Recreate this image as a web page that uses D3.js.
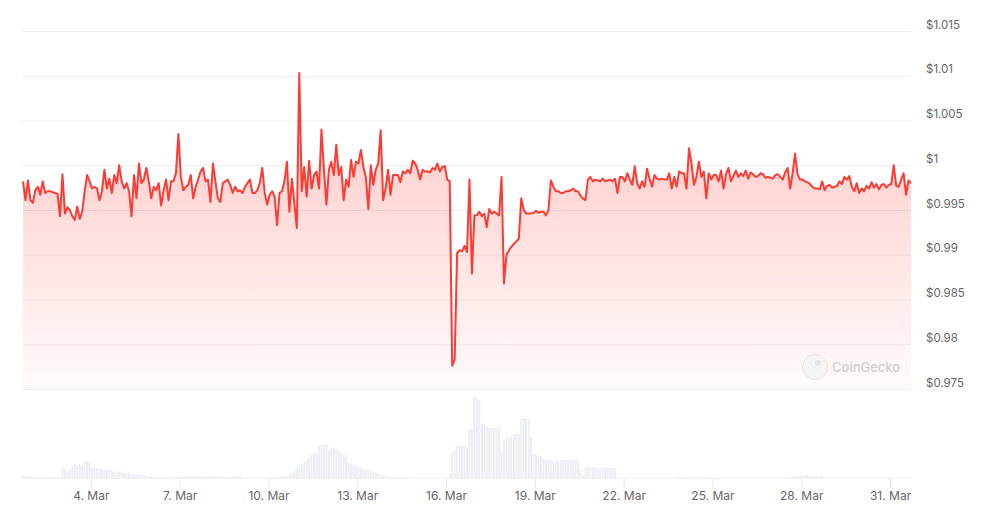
<!DOCTYPE html>
<html><head><meta charset="utf-8">
<script src="https://cdn.jsdelivr.net/npm/d3@7"></script>
<style>html,body{margin:0;padding:0;background:#fff;} svg{display:block;font-family:Inter,"Noto Sans",sans-serif;}</style>
</head><body><svg id="chart" width="984" height="510"></svg>
<script>
// ---- data (2-hour samples starting 1 Mar 17:00 UTC) ----
const startUTC = Date.UTC(2025, 2, 1, 17);
const stepHours = 2;
const prices = [
0.9982,0.9961,0.9983,0.9961,0.9958,0.9972,0.9976,0.9967,0.9982,0.9969,0.9971,0.9971,
0.9970,0.9969,0.9968,0.9943,0.9990,0.9946,0.9953,0.9950,0.9943,0.9939,0.9954,0.9940,
0.9948,0.9971,0.9989,0.9982,0.9974,0.9976,0.9974,0.9961,0.9971,0.9995,0.9974,0.9985,
0.9969,0.9989,0.9980,1.0000,0.9982,0.9974,0.9980,0.9971,0.9943,0.9989,0.9963,1.0002,
0.9980,0.9984,0.9997,0.9982,0.9963,0.9976,0.9972,0.9980,0.9955,0.9972,0.9984,0.9961,
0.9982,0.9982,0.9991,1.0035,0.9987,0.9972,0.9976,0.9978,0.9989,0.9963,0.9976,0.9984,
0.9993,0.9997,0.9982,0.9984,0.9959,1.0002,0.9982,0.9963,0.9959,0.9980,0.9982,0.9984,
0.9978,0.9969,0.9976,0.9971,0.9972,0.9969,0.9976,0.9980,0.9984,0.9969,0.9969,0.9972,
0.9980,0.9997,0.9969,0.9956,0.9967,0.9971,0.9965,0.9933,0.9969,0.9971,0.9982,1.0004,
0.9948,0.9985,0.9958,0.9930,1.0103,0.9971,0.9998,0.9965,1.0005,0.9974,0.9989,0.9993,
0.9974,1.0040,0.9995,0.9956,0.9995,1.0004,0.9989,1.0023,0.9989,0.9998,0.9961,0.9984,
0.9976,1.0006,0.9987,1.0004,1.0002,1.0017,0.9998,0.9987,0.9951,1.0000,0.9978,0.9995,
1.0002,1.0039,0.9961,0.9974,0.9995,0.9967,0.9989,0.9989,0.9989,0.9981,0.9993,0.9991,
0.9995,0.9991,1.0005,1.0002,0.9995,0.9984,0.9995,0.9993,0.9993,0.9992,0.9997,0.9995,
1.0002,0.9993,0.9998,0.9999,0.9984,0.9982,0.9776,0.9783,0.9902,0.9905,0.9904,0.9910,
0.9903,0.9984,0.9879,0.9944,0.9944,0.9948,0.9943,0.9946,0.9931,0.9951,0.9946,0.9948,
0.9946,0.9944,0.9987,0.9868,0.9900,0.9905,0.9909,0.9912,0.9915,0.9918,0.9963,0.9950,
0.9946,0.9946,0.9946,0.9947,0.9949,0.9947,0.9948,0.9948,0.9944,0.9950,0.9983,0.9976,
0.9971,0.9971,0.9969,0.9969,0.9971,0.9971,0.9972,0.9974,0.9971,0.9971,0.9966,0.9963,
0.9961,0.9984,0.9987,0.9982,0.9984,0.9983,0.9982,0.9985,0.9982,0.9983,0.9984,0.9982,
0.9985,0.9969,0.9987,0.9987,0.9982,0.9991,0.9984,0.9978,0.9999,0.9980,0.9974,0.9982,
0.9976,0.9996,0.9985,0.9976,0.9989,0.9985,0.9984,0.9985,0.9984,0.9984,0.9991,0.9974,
0.9987,0.9976,0.9993,0.9991,0.9991,0.9974,1.0019,1.0002,0.9978,0.9987,1.0004,0.9987,
0.9993,0.9963,0.9991,0.9984,0.9989,0.9989,0.9982,0.9994,0.9974,0.9990,0.9997,0.9982,
0.9988,0.9994,0.9987,0.9991,0.9988,0.9994,0.9985,0.9992,0.9990,0.9987,0.9988,0.9991,
0.9990,0.9986,0.9987,0.9986,0.9985,0.9989,0.9990,0.9987,0.9984,0.9992,0.9997,0.9974,
0.9991,1.0013,0.9990,0.9984,0.9984,0.9982,0.9981,0.9979,0.9976,0.9974,0.9974,0.9973,
0.9982,0.9972,0.9977,0.9978,0.9975,0.9976,0.9977,0.9982,0.9979,0.9987,0.9984,0.9988,
0.9976,0.9971,0.9980,0.9969,0.9974,0.9971,0.9977,0.9974,0.9981,0.9975,0.9979,0.9973,
0.9978,0.9979,0.9975,0.9978,0.9979,1.0000,0.9977,0.9976,0.9984,0.9991,0.9967,0.9983,
0.9980
];
const volumes = [
33,33,27,20,20,17,17,17,20,20,20,20,
20,20,20,20,110,93,77,100,133,143,143,150,
143,177,183,160,120,110,110,100,100,93,93,93,
93,67,67,77,77,60,60,67,50,43,47,50,
43,43,37,27,27,20,20,20,21,20,19,20,
20,20,21,20,27,27,28,27,27,26,27,27,
27,27,28,27,27,30,33,30,30,23,23,23,
23,22,23,23,23,13,13,14,13,13,12,13,
13,13,14,13,20,20,20,21,20,23,27,33,
47,60,80,100,127,147,170,193,220,243,260,267,
343,343,343,353,293,310,317,293,277,260,253,243,
160,153,143,133,120,113,103,93,83,77,67,60,
50,43,37,30,23,20,17,17,18,17,17,17,
17,10,10,11,10,10,10,10,11,10,10,10,
10,10,10,10,10,50,277,287,333,333,333,333,
333,500,500,820,810,787,553,553,527,510,510,510,
510,527,277,393,410,410,427,443,450,450,600,610,
610,600,420,243,243,233,227,210,193,193,187,177,
187,187,187,187,193,187,187,193,187,183,93,33,
120,117,120,117,120,117,113,117,120,117,113,110,
110,10,10,10,11,10,10,10,10,10,11,10,
10,10,10,11,10,10,10,10,10,10,11,10,
10,10,20,20,21,20,20,20,21,20,20,20,
20,20,13,13,13,14,13,13,13,13,14,13,
13,13,13,14,13,13,13,13,13,14,13,13,
13,13,14,13,13,13,13,14,13,13,13,13,
33,33,33,35,37,37,37,35,33,33,33,30,
30,13,13,13,14,13,13,13,13,14,13,13,
13,13,13,14,13,13,13,13,14,13,13,13,
13,14,13,13,13,13,13,14,13,13,13,13,
13
];
const yTicks = [0.975, 0.98, 0.985, 0.99, 0.995, 1, 1.005, 1.01, 1.015];
const yTickLabels = ["$0.975","$0.98","$0.985","$0.99","$0.995","$1","$1.005","$1.01","$1.015"];
const xTickDays = [4, 7, 10, 13, 16, 19, 22, 25, 28, 31];
const xTickLabels = ["4. Mar","7. Mar","10. Mar","13. Mar","16. Mar","19. Mar","22. Mar","25. Mar","28. Mar","31. Mar"];

// ---- layout ----
const left = 23, right = 911, priceTop = 31, priceBottom = 389, volTop = 389, volBottom = 479;
const svg = d3.select("#chart");
const times = prices.map((_, i) => new Date(startUTC + i * stepHours * 3600e3));
const x = d3.scaleUtc().domain([times[0], times[times.length - 1]]).range([left, right]);
const y = d3.scaleLinear().domain([0.975, 1.015]).range([priceBottom, priceTop]);
const yv = d3.scaleLinear().domain([0, 900]).range([volBottom, volTop]);

// gradient
const defs = svg.append("defs");
const grad = defs.append("linearGradient").attr("id", "fillGrad").attr("x1", 0).attr("y1", 0).attr("x2", 0).attr("y2", 1);
grad.append("stop").attr("offset", "0%").attr("stop-color", "#ff3a33").attr("stop-opacity", 0.3);
grad.append("stop").attr("offset", "100%").attr("stop-color", "#ff3a33").attr("stop-opacity", 0.02);

// gridlines + y labels
const yAxis = d3.axisRight(y).tickValues(yTicks).tickSize(-(right - left))
  .tickFormat((d, i) => yTickLabels[i]);
const gy = svg.append("g").attr("transform", `translate(${right},0)`).call(yAxis);
gy.select(".domain").remove();
gy.selectAll(".tick line").attr("stroke", "#eeeef2").attr("stroke-width", 1);
gy.selectAll(".tick text").attr("x", 15).attr("dy", "-0.25em")
  .attr("fill", "#666").style("font-size", "11.5px").style("font-family", "Inter,'Noto Sans',sans-serif");

// volume bars
const bw = (x(times[1]) - x(times[0])) * 0.8;
svg.append("g").selectAll("rect").data(volumes).join("rect")
  .attr("x", (d, i) => x(times[i]) - bw / 2)
  .attr("y", d => yv(d))
  .attr("width", bw)
  .attr("height", d => volBottom - yv(d))
  .attr("fill", "#eceef3");

// area + line
const area = d3.area().x((d, i) => x(times[i])).y0(priceBottom).y1(d => y(d));
svg.append("path").datum(prices).attr("d", area).attr("fill", "url(#fillGrad)");
const line = d3.line().x((d, i) => x(times[i])).y(d => y(d));
svg.append("path").datum(prices).attr("d", line).attr("fill", "none")
  .attr("stroke", "#ff3a33").attr("stroke-width", 2).attr("stroke-linejoin", "round");

// x axis
const xTickDates = xTickDays.map(d => new Date(Date.UTC(2025, 2, d)));
const xAxis = d3.axisBottom(x).tickValues(xTickDates).tickSize(9).tickPadding(3)
  .tickFormat((d, i) => xTickLabels[i]);
const gx = svg.append("g").attr("transform", `translate(0,${volBottom})`).call(xAxis);
gx.select(".domain").remove();
gx.selectAll(".tick line").attr("stroke", "#e6e6ea");
gx.selectAll(".tick text").attr("fill", "#666").style("font-size", "12px")
  .style("font-family", "Inter,'Noto Sans',sans-serif");

// watermark
const wm = svg.append("g").attr("opacity", 0.9);
wm.append("circle").attr("cx", 815).attr("cy", 367).attr("r", 12.5)
  .attr("fill", "#f4f4f4").attr("stroke", "#e2e2e2").attr("stroke-width", 1);
wm.append("circle").attr("cx", 818).attr("cy", 363).attr("r", 3).attr("fill", "#e4e4e4");
wm.append("text").attr("x", 832).attr("y", 371.5).text("CoinGecko")
  .attr("fill", "#c9c9c9").style("font-size", "13px").style("font-weight", 500)
  .style("font-family", "Inter,'Noto Sans',sans-serif");
</script></body></html>
